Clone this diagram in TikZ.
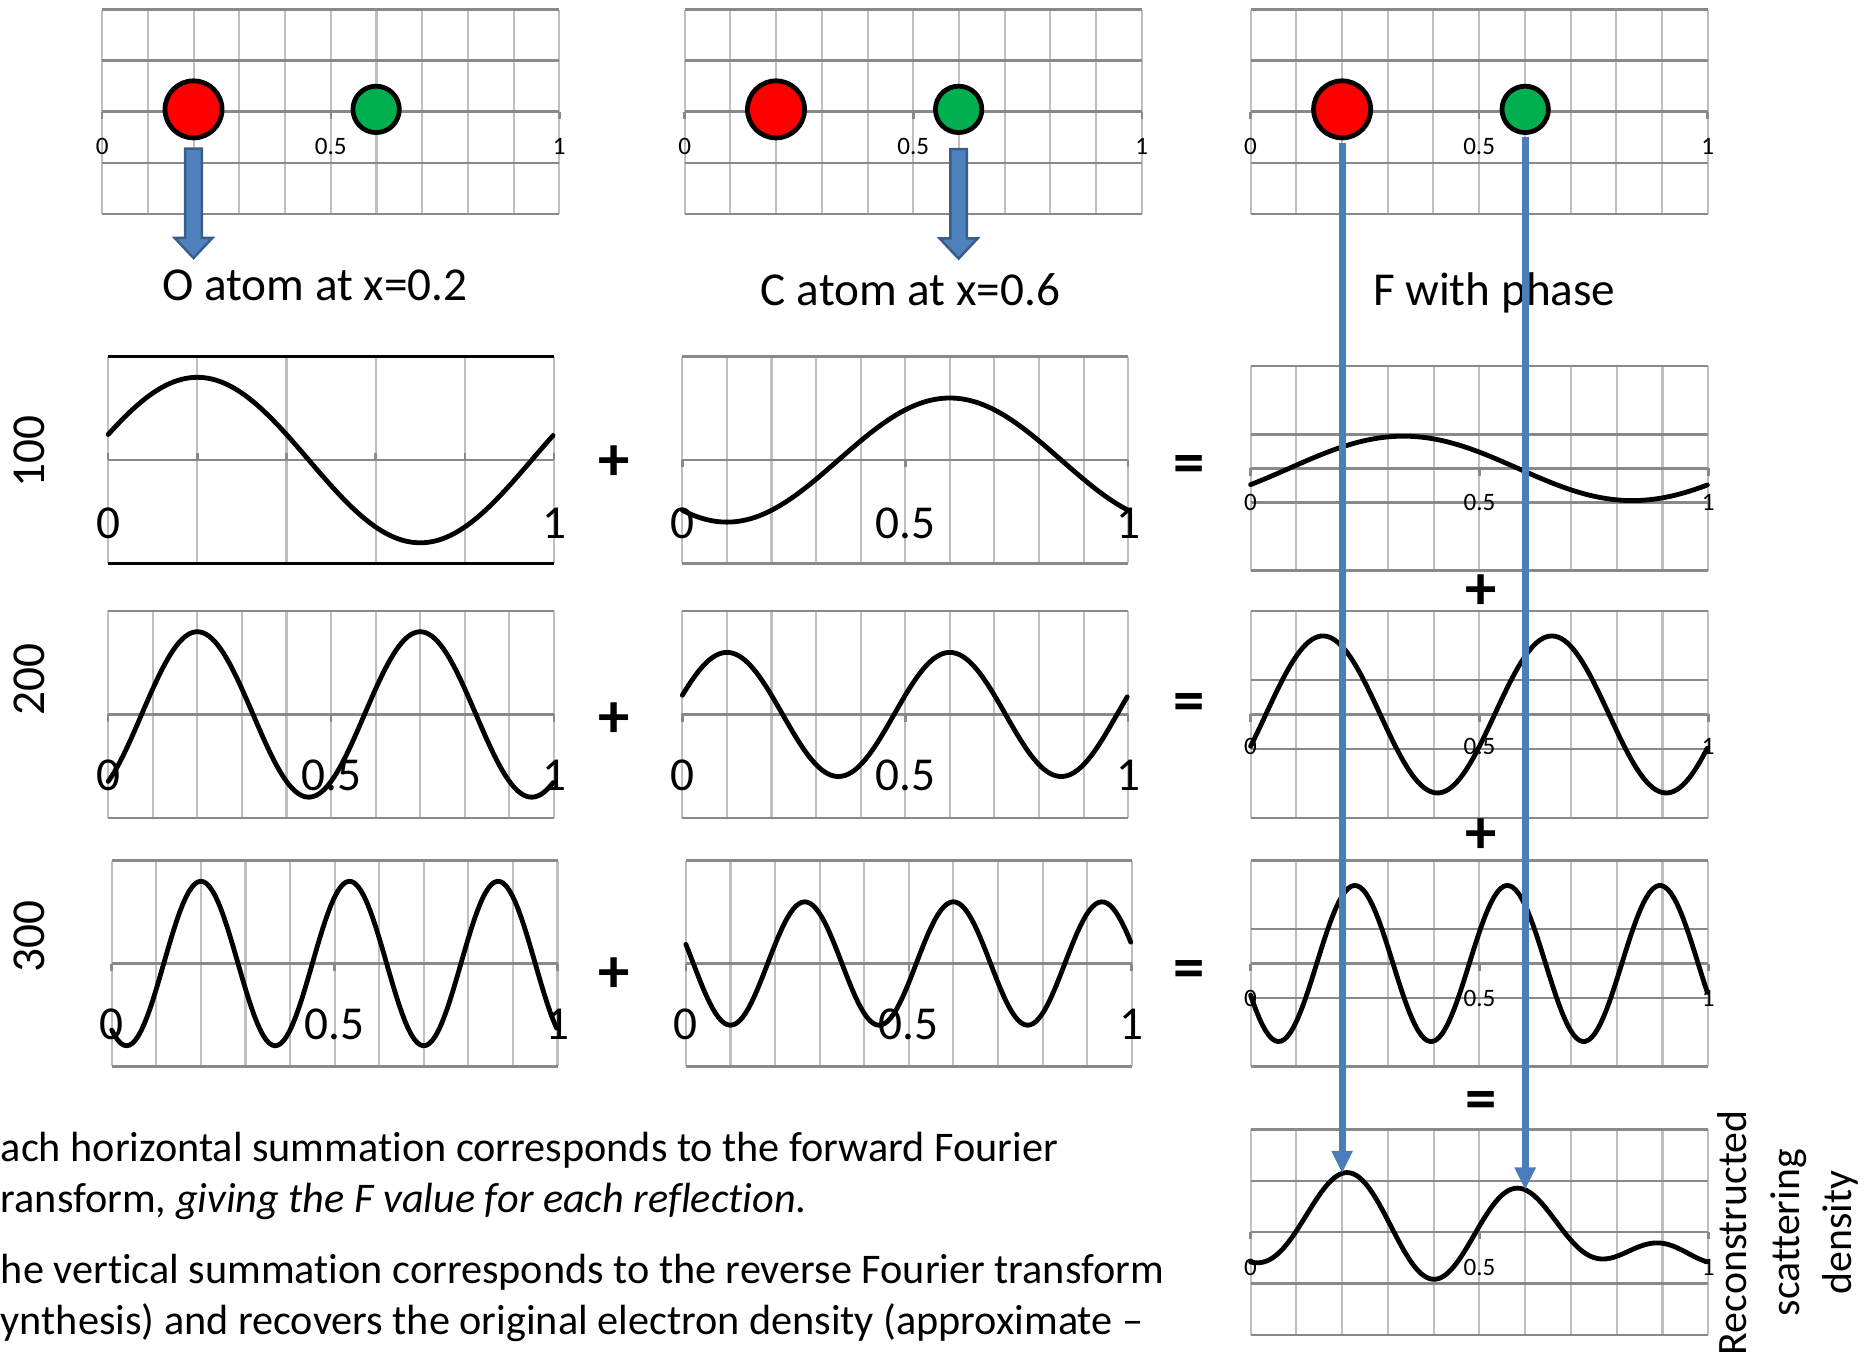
\documentclass[tikz,border=0pt]{standalone}
\usepackage{fontspec}
\setmainfont{Carlito}[Ligatures=NoCommon]
\usepackage{tikz}
\usetikzlibrary{arrows.meta,positioning,calc}
\definecolor{fourred}{HTML}{FF0000}
\definecolor{fourgreen}{HTML}{00B050}
\definecolor{fourblue}{HTML}{4F81BD}
\definecolor{fouredge}{HTML}{385D8A}
\definecolor{fourline}{HTML}{4A7EBB}
\definecolor{gridlight}{HTML}{BFBFBF}
\definecolor{gridmid}{HTML}{898989}

\begin{document}
\begin{tikzpicture}[
    x=0.01cm, y=-0.01cm,
    % Estilos
    gridv/.style={draw=gridlight, line width=0.5pt},
    gridh/.style={draw=gridmid, line width=0.6pt},
    wave/.style={draw=black, line width=1.15pt, line join=round, line cap=round},
    atom/.style={circle, draw=black, line width=1.14pt, inner sep=0pt},
    oatom/.style={atom, fill=fourred, minimum size=0.48cm},
    catom/.style={atom, fill=fourgreen, minimum size=0.39cm},
    blockarr/.style={fill=fourblue, draw=fouredge, line width=0.6pt},
    phasearr/.style={draw=fourline, line width=1.7pt, shorten <=0.6pt, -{Triangle[width=4.8pt, length=5.4pt]}},
    biglbl/.style={font=\fontsize{11.3}{13.5}\selectfont, inner sep=0pt},
    smalllbl/.style={font=\fontsize{6}{7}\selectfont, inner sep=0pt},
    headlbl/.style={biglbl, anchor=base},
    op/.style={font=\fontsize{15}{18}\selectfont\bfseries, inner sep=0pt},
    body/.style={font=\fontsize{10.1}{12.2}\selectfont, inner sep=0pt, anchor=base west}
]
\useasboundingbox (0,0) rectangle (1568,1145);

% --- PANELES SUPERIORES (posiciones atómicas) ---
\foreach \px in {86,576,1052}{
  \foreach \i in {0,...,10} \draw[gridv] ({\px+\i*38.45},8) -- ++(0,172);
  \foreach \f in {0,0.25,0.5,0.75,1} \draw[gridh] (\px,{8+\f*172}) -- ++(384.5,0);
  \foreach \f in {0,0.5,1} \draw[gridh] ({\px+\f*384.5},94) -- ++(0,6);
}
\foreach \px [count=\k] in {86,576,1052}{
  \node[smalllbl] (tz\k) at (\px,123) {0};
  \node[smalllbl] (th\k) at ({\px+192.25},123) {0.5};
  \node[smalllbl] (to\k) at ({\px+384.5},123) {1};
}

% --- PANELES DE ONDAS (columnas O y C) ---
% 100, columna O
\foreach \i in {0,...,5} \draw[gridv] ({91+\i*75},300) -- ++(0,174);
\draw[gridh] (91,387) -- ++(375,0);
\foreach \i in {0,...,5} \draw[gridh] ({91+\i*75},387) -- ++(0,-6);
\draw[black, line width=0.6pt] (91,300) -- ++(375,0);
\draw[black, line width=0.6pt] (91,474) -- ++(375,0);
% resto
\foreach \px/\py/\ph in {91/514/174, 94/724/173, 574/300/174, 574/514/174, 577/724/173}{
  \foreach \i in {0,...,10} \draw[gridv] ({\px+\i*37.5},\py) -- ++(0,\ph);
  \foreach \f in {0,0.5,1} \draw[gridh] (\px,{\py+\f*\ph}) -- ++(375,0);
  \foreach \f in {0,0.5,1} \draw[gridh] ({\px+\f*375},{\py+\ph/2}) -- ++(0,6);
}

% --- PANELES DE ONDAS (columna F) ---
\foreach \py/\ph in {308/172, 514/174, 724/173}{
  \foreach \i in {0,...,10} \draw[gridv] ({1052+\i*38.5},\py) -- ++(0,\ph);
  \foreach \f in {0,0.3333,0.5,0.6667,1} \draw[gridh] (1052,{\py+\f*\ph}) -- ++(385,0);
  \foreach \f in {0,0.5,1} \draw[gridh] ({1052+\f*385},{\py+\ph/2}) -- ++(0,6);
}
\foreach \i in {0,...,10} \draw[gridv] ({1052+\i*38.5},950) -- ++(0,173);
\foreach \f in {0,0.25,0.5,0.75,1} \draw[gridh] (1052,{950+\f*173}) -- ++(385,0);
\foreach \f in {0,0.5,1} \draw[gridh] ({1052+\f*385},1036.5) -- ++(0,6);

% --- CURVAS ---
\draw[wave] plot[domain=0:1, samples=151, variable=\t] ({91+375*\t}, {387-69.6*cos(360*(\t-0.2))});
\draw[wave] plot[domain=0:1, samples=151, variable=\t] ({91+375*\t}, {601-69.6*cos(720*(\t-0.2))});
\draw[wave] plot[domain=0:1, samples=151, variable=\t] ({94+375*\t}, {810.5-69.2*cos(1080*(\t-0.2))});

\draw[wave] plot[domain=0:1, samples=151, variable=\t] ({574+375*\t}, {387-52.2*cos(360*(\t-0.6))});
\draw[wave] plot[domain=0:1, samples=151, variable=\t] ({574+375*\t}, {601-52.2*cos(720*(\t-0.6))});
\draw[wave] plot[domain=0:1, samples=151, variable=\t] ({577+375*\t}, {810.5-51.9*cos(1080*(\t-0.6))});

\draw[wave] plot[domain=0:1, samples=151, variable=\t] ({1052+385*\t}, {394-5.733*(8*cos(360*(\t-0.2))+6*cos(360*(\t-0.6)))});
\draw[wave] plot[domain=0:1, samples=151, variable=\t] ({1052+385*\t}, {601-5.8*(8*cos(720*(\t-0.2))+6*cos(720*(\t-0.6)))});
\draw[wave] plot[domain=0:1, samples=151, variable=\t] ({1052+385*\t}, {810.5-5.767*(8*cos(1080*(\t-0.2))+6*cos(1080*(\t-0.6)))});
\draw[wave] plot[domain=0:1, samples=201, variable=\t] ({1052+385*\t}, {1036.5-2.1625*(8*cos(360*(\t-0.2))+6*cos(360*(\t-0.6))+8*cos(720*(\t-0.2))+6*cos(720*(\t-0.6))+8*cos(1080*(\t-0.2))+6*cos(1080*(\t-0.6)))});

% --- ETIQUETAS DE EJES ---
\node[biglbl] (lzA) at (91,440) {0};
\node[biglbl] (loA) at (466,440) {1};
\foreach \px/\py [count=\k] in {91/652, 94/862, 574/440, 574/652, 577/862}{
  \node[biglbl] (lz\k) at (\px,\py) {0};
  \node[biglbl] (lh\k) at ({\px+187.5},\py) {0.5};
  \node[biglbl] (lo\k) at ({\px+375},\py) {1};
}
\foreach \py [count=\k] in {423,628,840,1066}{
  \node[smalllbl] (fz\k) at (1052,\py) {0};
  \node[smalllbl] (fh\k) at (1244.5,\py) {0.5};
  \node[smalllbl] (fo\k) at (1437,\py) {1};
}
\node[biglbl, rotate=90] (hA) at (25,380) {100};
\node[biglbl, rotate=90] (hB) at (25,572) {200};
\node[biglbl, rotate=90] (hC) at (25,788) {300};

% --- OPERADORES ---
\node[op] (plusA) at (517,390) {+};
\node[op] (plusB) at (517,606) {+};
\node[op] (plusC) at (517,820) {+};
\node[op] (eqA) at (1000,395) {=};
\node[op] (eqB) at (1000,595) {=};
\node[op] (eqC) at (1000,820) {=};
\node[op] (plusD) at (1246,498) {+};
\node[op] (plusE) at (1246,703) {+};
\node[op] (eqD) at (1246,930) {=};

% --- TITULOS ---
\node[headlbl] (titO) at (265,253) {O atom at x=0.2};
\node[headlbl] (titC) at (766,257) {C atom at x=0.6};
\node[headlbl] (titF) at (1257,257) {F with phase};
\node[font=\fontsize{10}{12.6}\selectfont, align=center, rotate=90, inner sep=0pt] (rsd) at (1504,1037) {Reconstructed\\scattering\\density};

\node[body] (txtA) at (0,977) {ach horizontal summation corresponds to the forward Fourier};
\node[body] (txtB) at (0,1020) {ransform, \textit{giving the F value for each reflection}.};
\node[body] (txtC) at (0,1080) {he vertical summation corresponds to the reverse Fourier transform};
\node[body] (txtD) at (0,1123) {ynthesis) and recovers the original electron density (approximate –};

% --- ATOMOS ---
\node[oatom] (oatomA) at (162.8,92) {};
\node[catom] (catomA) at (316.4,92) {};
\node[oatom] (oatomB) at (652.8,92) {};
\node[catom] (catomB) at (806.4,92) {};
\node[oatom] (oatomC) at (1129,92) {};
\node[catom] (catomC) at (1283,92) {};

% --- FLECHAS ---
\draw[blockarr] (oatomA.south) ++(-7,7) -- ++(14,0) -- ++(0,75) -- ++(9,0) -- ++(-16,17) -- ++(-16,-17) -- ++(9,0) -- cycle;
\draw[blockarr] (catomB.south) ++(-7,12) -- ++(14,0) -- ++(0,75) -- ++(9,0) -- ++(-16,17) -- ++(-16,-17) -- ++(9,0) -- cycle;

\coordinate (pkO) at (1129,987);
\coordinate (pkC) at (1283,1001);
\draw[phasearr] (oatomC.south) -- (pkO);
\draw[phasearr] (catomC.south) -- (pkC);

\end{tikzpicture}
\end{document}
